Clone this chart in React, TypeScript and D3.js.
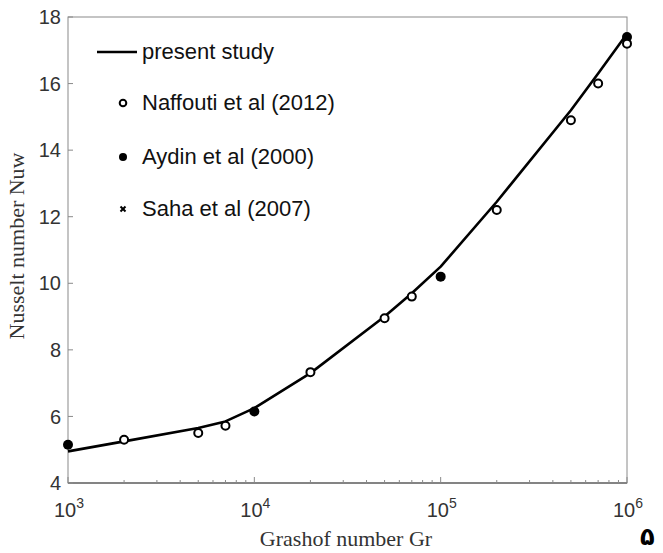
import React from "react";
import * as d3 from "d3";

// Nusselt number along the wall vs Grashof number
const studyGr = [1e3, 2e3, 5e3, 7e3, 1e4, 2e4, 5e4, 7e4, 1e5, 2e5, 5e5, 7e5, 1e6];
const studyNu = [4.95, 5.25, 5.65, 5.85, 6.25, 7.3, 9.0, 9.7, 10.5, 12.45, 15.2, 16.3, 17.5];

const naffoutiGr = [2e3, 5e3, 7e3, 2e4, 5e4, 7e4, 2e5, 5e5, 7e5, 1e6];
const naffoutiNu = [5.3, 5.5, 5.72, 7.33, 8.95, 9.6, 12.2, 14.9, 16.0, 17.2];

const aydinGr = [1e3, 1e4, 1e5, 1e6];
const aydinNu = [5.15, 6.15, 10.2, 17.4];

const yTicks = [4, 6, 8, 10, 12, 14, 16, 18];
const xDecades = [3, 4, 5, 6];
const legendLabels = ["present study", "Naffouti et al (2012)", "Aydin et al (2000)", "Saha et al (2007)"];

const W = 663;
const H = 553;
const m = { left: 68, right: 627, top: 17, bottom: 483 };

export default function App() {
  const x = d3.scaleLog().domain([1e3, 1e6]).range([m.left, m.right]);
  const y = d3.scaleLinear().domain([4, 18]).range([m.bottom, m.top]);

  const line = d3
    .line<number>()
    .x((_, i) => x(studyGr[i]))
    .y((d) => y(d));

  const minor: number[] = [];
  for (let e = 3; e < 6; e++) {
    for (let k = 2; k <= 9; k++) minor.push(k * Math.pow(10, e));
  }

  const sans = "'Liberation Sans', Arial, sans-serif";
  const serif = "'Liberation Serif', 'DejaVu Serif', serif";
  const axisCol = "#8a8a8a";
  const textCol = "#333";

  const legendY = [52, 103, 157, 209];

  return (
    <svg
      width={W}
      height={H}
      style={{ position: "absolute", left: 0, top: 0, background: "#fff" }}
    >
      {/* frame */}
      <rect
        x={m.left}
        y={m.top}
        width={m.right - m.left}
        height={m.bottom - m.top}
        fill="none"
        stroke={axisCol}
        strokeWidth={1}
      />
      <line x1={m.left} x2={m.right} y1={m.bottom} y2={m.bottom} stroke="#444" strokeWidth={1.2} />

      {/* y ticks */}
      {yTicks.map((t) => (
        <g key={"y" + t}>
          <line x1={m.left} x2={m.left + 5} y1={y(t)} y2={y(t)} stroke={axisCol} />
          <text
            x={m.left - 7}
            y={y(t)}
            dy="0.36em"
            textAnchor="end"
            fontFamily={sans}
            fontSize={20}
            fill={textCol}
          >
            {t}
          </text>
        </g>
      ))}

      {/* x ticks */}
      {minor.map((v) => (
        <line key={"m" + v} x1={x(v)} x2={x(v)} y1={m.bottom} y2={m.bottom - 3} stroke={axisCol} />
      ))}
      {xDecades.map((e) => (
        <g key={"x" + e}>
          <line x1={x(Math.pow(10, e))} x2={x(Math.pow(10, e))} y1={m.bottom} y2={m.bottom - 6} stroke={axisCol} />
          <text
            x={x(Math.pow(10, e)) + 1}
            y={m.bottom + 34}
            textAnchor="middle"
            fontFamily={sans}
            fontSize={20}
            fill={textCol}
          >
            10
            <tspan dy={-9} fontSize={14}>
              {e}
            </tspan>
          </text>
        </g>
      ))}

      {/* axis titles */}
      <text
        x={346}
        y={546}
        textAnchor="middle"
        fontFamily={serif}
        fontSize={22}
        fill={textCol}
      >
        Grashof number Gr
      </text>
      <text
        transform={`translate(24, 246) rotate(-90)`}
        textAnchor="middle"
        fontFamily={serif}
        fontSize={22}
        fill={textCol}
      >
        Nusselt number Nuw
      </text>

      {/* present study */}
      <path d={line(studyNu) || ""} fill="none" stroke="#000" strokeWidth={2.6} strokeLinejoin="round" />

      {/* Aydin et al (filled) */}
      {aydinNu.map((v, i) => (
        <circle key={"a" + i} cx={x(aydinGr[i])} cy={y(v)} r={5} fill="#000" />
      ))}

      {/* Naffouti et al (open) */}
      {naffoutiNu.map((v, i) => (
        <circle
          key={"n" + i}
          cx={x(naffoutiGr[i])}
          cy={y(v)}
          r={4}
          fill="#fff"
          stroke="#000"
          strokeWidth={2}
        />
      ))}

      {/* legend */}
      <line x1={97} x2={137} y1={legendY[0]} y2={legendY[0]} stroke="#000" strokeWidth={2.6} />
      <circle cx={123} cy={legendY[1]} r={3.3} fill="#fff" stroke="#000" strokeWidth={2} />
      <circle cx={123} cy={legendY[2]} r={4} fill="#000" />
      <g stroke="#000" strokeWidth={2}>
        <line x1={120.5} x2={125.5} y1={legendY[3] - 2.5} y2={legendY[3] + 2.5} />
        <line x1={120.5} x2={125.5} y1={legendY[3] + 2.5} y2={legendY[3] - 2.5} />
      </g>
      {legendLabels.map((s, i) => (
        <text
          key={s}
          x={142}
          y={legendY[i]}
          dy="0.33em"
          fontFamily={sans}
          fontSize={22}
          fill="#111"
        >
          {s}
        </text>
      ))}

      {/* page number */}
      <text x={640} y={545} fontFamily="'DejaVu Sans', sans-serif" fontSize={24} fontWeight="bold" fill="#000">
        ۵
      </text>
    </svg>
  );
}
